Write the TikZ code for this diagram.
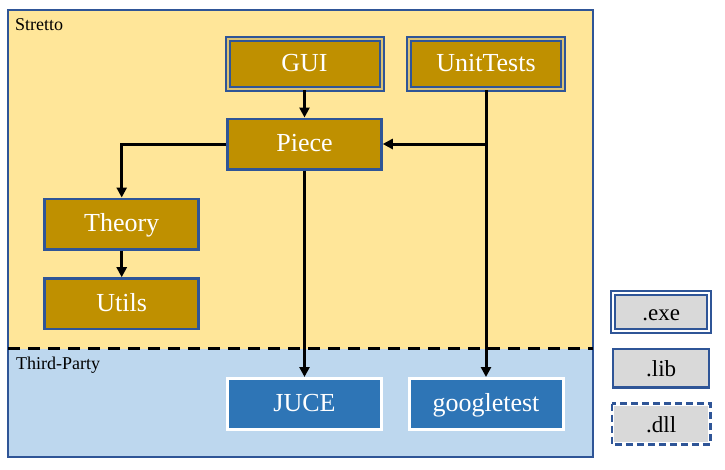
\documentclass[tikz,border=0pt]{standalone}
\usepackage{fontspec}
\setmainfont{Liberation Serif}
\usepackage{xcolor}
\usetikzlibrary{arrows.meta}
\definecolor{strfill}{HTML}{FFE699}
\definecolor{tpfill}{HTML}{BDD7EE}
\definecolor{bord}{HTML}{2F5597}
\definecolor{gold}{HTML}{BF9000}
\definecolor{libblue}{HTML}{2E75B6}
\definecolor{legfill}{HTML}{D9D9D9}

\begin{document}
\begin{tikzpicture}[x=1pt,y=-1pt]
            \tikzset{
            str node/.style={rectangle,fill=gold,draw=bord,line width=2.5pt,minimum width=154pt,minimum height=50.5pt,inner sep=0,text=white,text height=19pt,text depth=3.6pt,font=\fontsize{26}{28}\selectfont},
            str exe/.style={str node,line width=2pt,double=gold!55!white,double distance=2pt},
            tp node/.style={rectangle,fill=libblue,draw=white,line width=3pt,minimum width=154pt,minimum height=51pt,inner sep=0,text=white,text height=19pt,text depth=3.6pt,font=\fontsize{26}{28}\selectfont},
            leg node/.style={rectangle,fill=legfill,draw=bord,line width=2.5pt,minimum width=96pt,minimum height=38.5pt,inner sep=0,text height=18pt,text depth=1.6pt,font=\fontsize{23}{25}\selectfont},
            region label/.style={anchor=base west,inner sep=0,font=\fontsize{18}{20}\selectfont},
            str edge/.style={line width=3pt,-{Triangle[length=10pt,width=10pt]}}
            }
            \useasboundingbox (0,0) rectangle (725,469);
            % regions
            \fill[strfill] (8,10) rectangle (592.7,348.5);
            \fill[tpfill] (8,348.5) rectangle (592.7,457);
            \draw[bord,line width=2.2pt] (8,10) rectangle (592.7,457);
            \draw[line width=2.5pt,dash pattern=on 12pt off 8pt] (8,348.5) -- (592.7,348.5);
            \node[region label] (stretto) at (15,30) {Stretto};
            \node[region label] (third) at (16,369) {Third-Party};

            \node[str exe] (gui) at (304.5,64) {GUI};
            \node[str exe] (tests) at (486,64) {UnitTests};
            \node[str node] (piece) at (304.5,144) {Piece};
            \node[str node] (theory) at (121.7,224) {Theory};
            \node[str node] (utils) at (121.7,303.7) {Utils};
            \node[tp node] (juce) at (304.5,404) {JUCE};
            \node[tp node] (gtest) at (486,404) {googletest};

            % legend
            \node[leg node,line width=2pt,double=white,double distance=2pt] (exe) at (661.3,311.8) {.exe};
            \node[leg node] (lib) at (661.2,368) {.lib};
            \node[leg node,draw=white] (dll) at (661.2,424) {.dll};
            \draw[bord,line width=2.5pt,dash pattern=on 7pt off 4pt] (dll.north west) rectangle (dll.south east);

            \coordinate (split) at (tests.south |- piece.east);
            \path[draw]
            (gui) edge[str edge] (piece)
            (tests) edge[str edge] (gtest)
            (split) edge[str edge] (piece)
            (theory) edge[str edge] (utils)
            (piece) edge[str edge] (juce)
            ;
            \draw[str edge] (piece.west) -| (theory.north);
        \end{tikzpicture}
\end{document}
